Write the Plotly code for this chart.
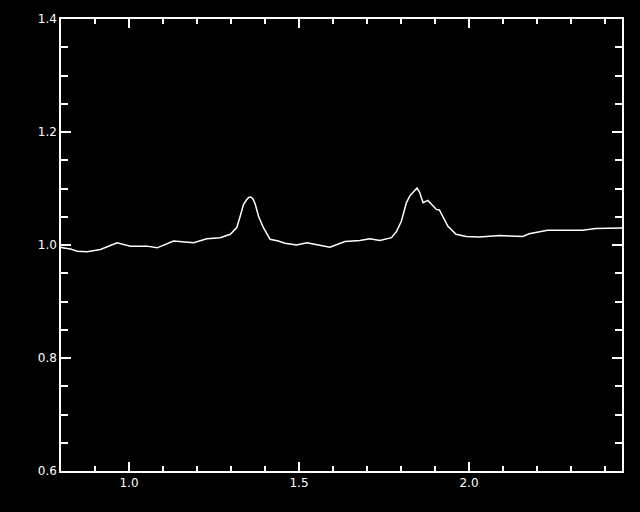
import plotly.graph_objects as go

wavelength = [0.800, 0.804, 0.828, 0.848, 0.877, 0.916, 0.965, 1.004, 1.053, 1.083, 1.131,
              1.190, 1.229, 1.268, 1.298, 1.317, 1.327, 1.337, 1.346, 1.352, 1.358, 1.364,
              1.371, 1.381, 1.395, 1.415, 1.439, 1.459, 1.493, 1.523, 1.557, 1.591, 1.635,
              1.679, 1.708, 1.738, 1.772, 1.787, 1.801, 1.816, 1.826, 1.835, 1.847, 1.855,
              1.865, 1.879, 1.889, 1.904, 1.913, 1.923, 1.938, 1.962, 1.992, 2.031, 2.090,
              2.119, 2.158, 2.177, 2.207, 2.231, 2.275, 2.334, 2.373, 2.441, 2.450]
flux = [0.996, 0.995, 0.993, 0.989, 0.988, 0.992, 1.004, 0.998, 0.998, 0.995, 1.007,
        1.004, 1.011, 1.013, 1.019, 1.031, 1.051, 1.072, 1.080, 1.084, 1.085, 1.082,
        1.073, 1.051, 1.031, 1.010, 1.007, 1.003, 1.000, 1.004, 1.000, 0.996, 1.006,
        1.008, 1.011, 1.008, 1.013, 1.024, 1.042, 1.075, 1.087, 1.093, 1.101, 1.093,
        1.075, 1.079, 1.072, 1.063, 1.062, 1.051, 1.033, 1.019, 1.015, 1.014, 1.017,
        1.016, 1.015, 1.020, 1.023, 1.026, 1.026, 1.026, 1.029, 1.029, 1.030]

x_range = [0.8, 2.45]
y_range = [0.6, 1.4]
x_tickvals = [1.0, 1.5, 2.0]
y_tickvals = [0.6, 0.8, 1.0, 1.2, 1.4]

fig = go.Figure()
fig.add_trace(go.Scatter(x=wavelength, y=flux, mode="lines",
                         line=dict(color="white", width=1.5), showlegend=False))

axis_common = dict(showline=True, linecolor="white", linewidth=1.5, mirror="ticks",
                   showgrid=False, zeroline=False, ticks="inside", tickcolor="white",
                   tickwidth=1.5, tickfont=dict(color="white", size=12, family="DejaVu Sans"))

fig.update_xaxes(range=x_range, tickvals=x_tickvals, ticktext=["1.0", "1.5", "2.0"],
                 ticklen=9,
                 minor=dict(dtick=0.1, tick0=0.8, ticks="inside", ticklen=5,
                            tickcolor="white", tickwidth=1.5),
                 **axis_common)
fig.update_yaxes(range=y_range, tickvals=y_tickvals, ticktext=["0.6", "0.8", "1.0", "1.2", "1.4"],
                 ticklen=10,
                 minor=dict(dtick=0.05, tick0=0.6, ticks="inside", ticklen=7,
                            tickcolor="white", tickwidth=1.5),
                 **axis_common)

fig.update_layout(width=640, height=512, paper_bgcolor="black", plot_bgcolor="black",
                  margin=dict(l=61, r=18, t=19, b=41, pad=0))

fig.write_html("out.html", config={"displayModeBar": False},
               post_script="document.body.style.margin='0';document.body.style.background='black';")
